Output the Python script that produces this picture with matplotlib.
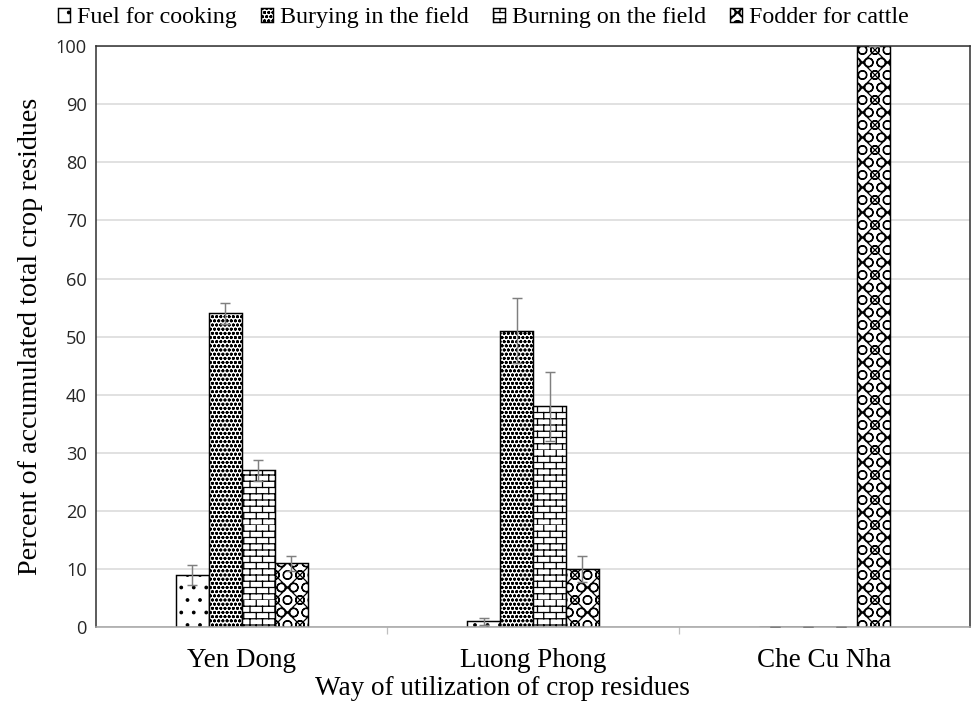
import warnings
import numpy as np
import matplotlib
matplotlib.use('Agg')
import matplotlib.pyplot as plt
from matplotlib import hatch as mhatch
from matplotlib.path import Path

warnings.filterwarnings('ignore')


# brick-wall hatch, selected with the letter 'b'
class BrickHatch(mhatch.HatchPatternBase):
    def __init__(self, hatch, density):
        self.num_rows = hatch.count('b') * density * 2
        self.num_cols = self.num_rows // 2
        self.num_vertices = self.num_rows * (2 + 2 * self.num_cols)

    def set_vertices_and_codes(self, vertices, codes):
        k = 0
        for i in range(self.num_rows):
            y0 = i / self.num_rows
            y1 = (i + 1) / self.num_rows
            vertices[k] = (0, y0)
            vertices[k + 1] = (1, y0)
            codes[k] = Path.MOVETO
            codes[k + 1] = Path.LINETO
            k += 2
            shift = 0.5 * (i % 2)
            for j in range(self.num_cols):
                x = (j + shift) / self.num_cols
                vertices[k] = (x, y0)
                vertices[k + 1] = (x, y1)
                codes[k] = Path.MOVETO
                codes[k + 1] = Path.LINETO
                k += 2


mhatch._hatch_types.append(BrickHatch)

# data
sites = ['Yen Dong', 'Luong Phong', 'Che Cu Nha']
uses = ['Fuel for cooking', 'Burying in the field', 'Burning on the field', 'Fodder for cattle']
fuel = [9, 1, 0]
fuel_err = [1.7, 0.6, 0]
burying = [54, 51, 0]
burying_err = [1.8, 5.6, 0]
burning = [27, 38, 0]
burning_err = [1.8, 5.9, 0]
fodder = [11, 10, 100]
fodder_err = [1.3, 2.2, 0]

series = [(fuel, fuel_err), (burying, burying_err), (burning, burning_err), (fodder, fodder_err)]
hatches = ['.', 'ooo', 'b', 'xO']

plt.rcParams['hatch.linewidth'] = 1.2
plt.rcParams['hatch.color'] = 'black'

fig = plt.figure(figsize=(13, 9.48), dpi=75)
ax = fig.add_axes([0.0985, 0.118, 0.8965, 0.817])

x = np.arange(len(sites))
w = 0.113
for i, (vals, errs) in enumerate(series):
    pos = x + (i - 1.5) * w
    ax.bar(pos, vals, w, color='white', edgecolor='black', linewidth=1.4,
           hatch=hatches[i], label=uses[i], zorder=2)
    ax.errorbar(pos, vals, yerr=errs, fmt='none', ecolor='#7f7f7f',
                elinewidth=1.4, capsize=5, capthick=1.4, zorder=3)

ax.set_xlim(-0.5, 2.5)
ax.set_ylim(0, 100)
ax.set_yticks(np.arange(0, 101, 10))
ax.yaxis.grid(True, color='#d9d9d9', linewidth=1.5, zorder=0)
ax.set_axisbelow(True)

ax.set_xticks(x)
ax.set_xticklabels(sites, fontfamily='Liberation Serif', fontsize=26)
ax.set_xticks([0.5, 1.5], minor=True)
ax.tick_params(axis='x', which='major', length=0, pad=20)
ax.tick_params(axis='x', which='minor', length=7, color='#bfbfbf', width=1.2)
ax.tick_params(axis='y', length=0, pad=9)
for lab in ax.get_yticklabels():
    lab.set_fontfamily('Open Sans')
    lab.set_fontsize(17.5)
    lab.set_color('#262626')

for side in ['left', 'top', 'right']:
    ax.spines[side].set_color('#333333')
    ax.spines[side].set_linewidth(1.5)
ax.spines['bottom'].set_color('#a6a6a6')
ax.spines['bottom'].set_linewidth(1.5)

ax.set_xlabel('Way of utilization of crop residues', fontfamily='Liberation Serif',
              fontsize=26)
ax.xaxis.set_label_coords(0.465, -0.085)
ax.set_ylabel('Percent of accumulated total crop residues', fontfamily='Liberation Serif',
              fontsize=27, labelpad=12)

ax.legend(loc='lower center', bbox_to_anchor=(0.443, 1.01), ncol=4, frameon=False,
          prop={'family': 'Liberation Serif', 'size': 23}, handlelength=0.5,
          handleheight=0.5, handletextpad=0.3, columnspacing=1.0, borderaxespad=0.1)

fig.savefig('out.png', dpi=75)
